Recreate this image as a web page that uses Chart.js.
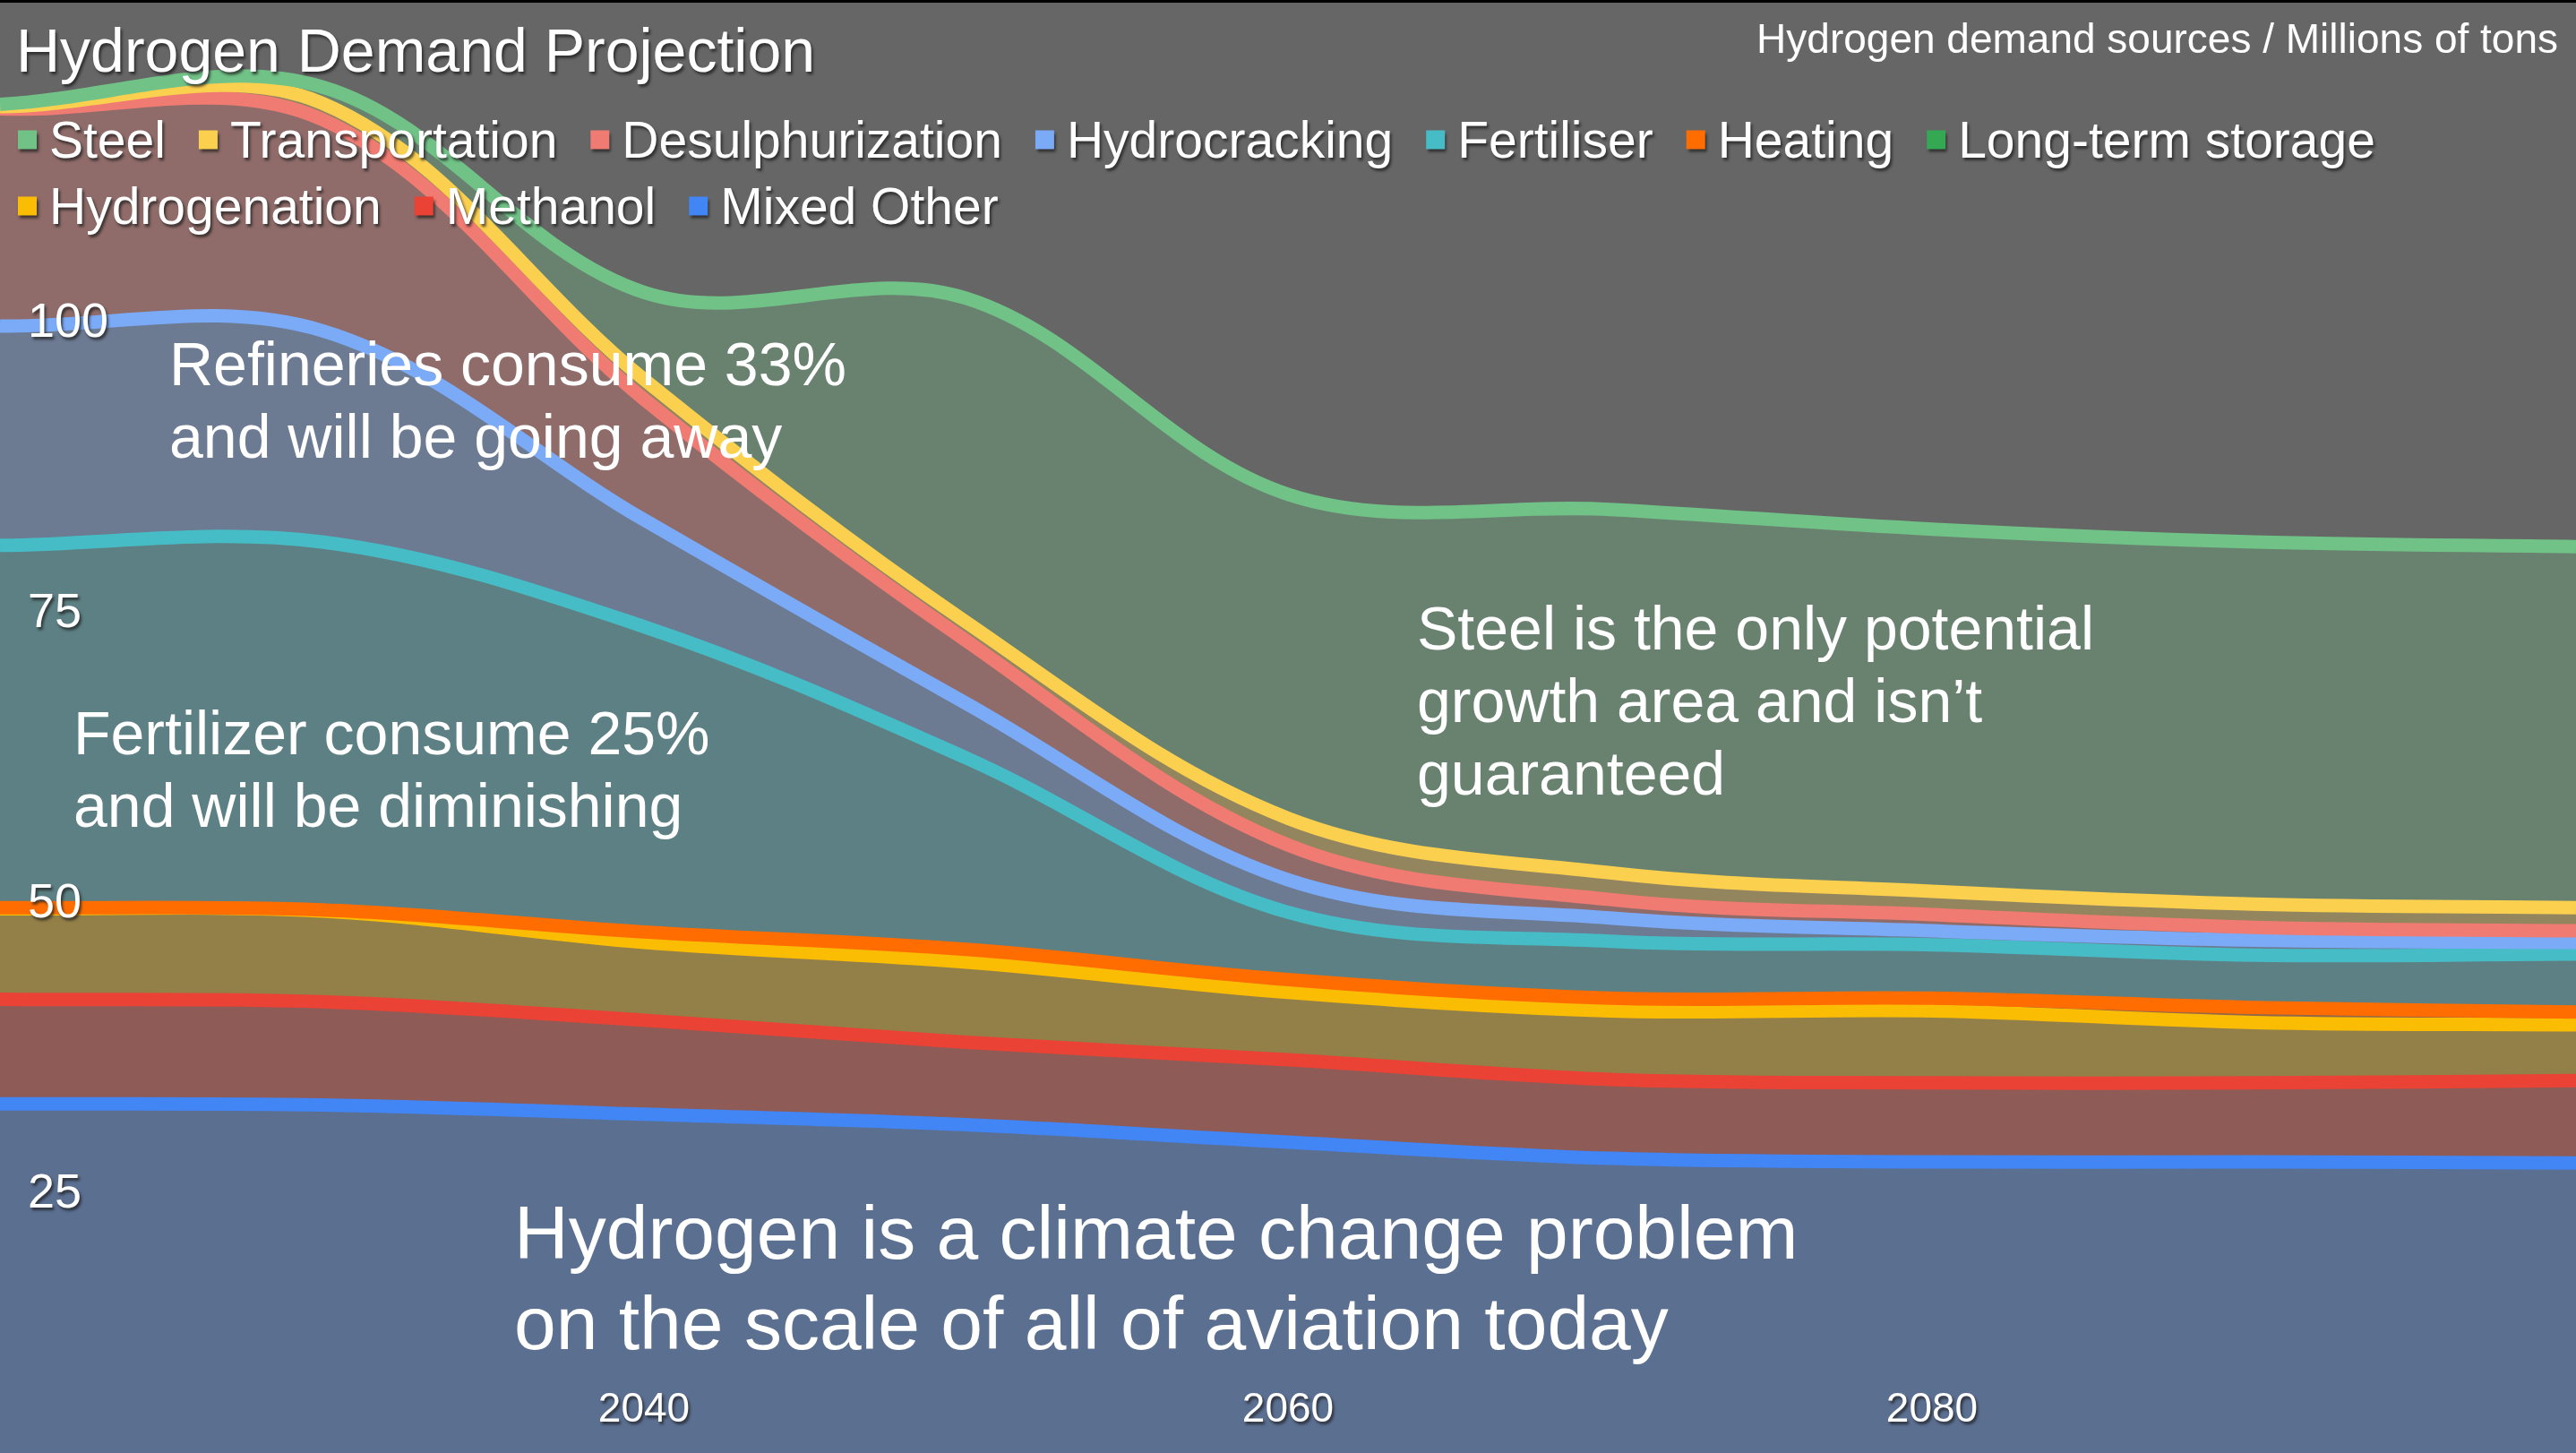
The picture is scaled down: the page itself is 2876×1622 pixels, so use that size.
<!DOCTYPE html>
<html>
<head>
<meta charset="utf-8">
<title>Hydrogen Demand Projection</title>
<script src="https://cdn.jsdelivr.net/npm/chart.js@4.4.1/dist/chart.umd.min.js"></script>
<style>
  html, body { margin: 0; padding: 0; background: #000; overflow: hidden; }
  #wrap { position: absolute; left: 0; top: 3px; width: 2876px; height: 1619px; background: #666666; }
</style>
</head>
<body>
<div id="wrap"><canvas id="chart"></canvas></div>
<script>
// years on the x axis
var years = [2020, 2030, 2040, 2050, 2060, 2070, 2080, 2090, 2100];

// millions of tons per source, bottom of the stack first
var mixedOther       = [32.8, 32.7, 31.9, 31.0, 29.5, 28.1, 27.8, 27.8, 27.7];
var methanol         = [9.0, 8.9, 8.1, 7.1, 7.1, 6.8, 6.8, 6.8, 7.1];
var hydrogenation    = [7.8, 7.8, 6.7, 6.9, 5.8, 5.9, 6.2, 5.2, 4.8];
var longTermStorage  = [0, 0, 0, 0, 0, 0, 0, 0, 0];
var heating          = [0.1, 0.1, 0.9, 1.1, 1.1, 1.1, 1.1, 1.3, 1.1];
var fertiliser       = [31.2, 31.7, 26.3, 16.5, 5.8, 4.9, 4.6, 4.5, 5.0];
var hydrocracking    = [18.9, 18.2, 9.2, 4.7, 2.8, 2.0, 1.2, 1.3, 1.0];
var desulphurization = [18.7, 18.2, 10.4, 5.4, 3.0, 1.6, 1.4, 1.1, 1.0];
var transportation   = [0.2, 1.4, 1.7, 1.6, 2.3, 2.3, 2.0, 2.0, 2.0];
var steel            = [0.2, 1.4, 7.5, 27.9, 27.9, 31.3, 31.2, 31.2, 31.1];

var seriesNames = ["Mixed Other", "Methanol", "Hydrogenation", "Long-term storage", "Heating",
                   "Fertiliser", "Hydrocracking", "Desulphurization", "Transportation", "Steel"];
var seriesValues = [mixedOther, methanol, hydrogenation, longTermStorage, heating,
                    fertiliser, hydrocracking, desulphurization, transportation, steel];
var seriesColors = ["#4285f4", "#ea4335", "#fbbc04", "#34a853", "#ff6d01",
                    "#46bdc6", "#7baaf7", "#f07b72", "#fcd04f", "#71c287"];

var xTicks = [2040, 2060, 2080];
var yTicks = [25, 50, 75, 100];

var FONT = "'Liberation Sans', Arial, sans-serif";

function rgba(hex, a) {
    var n = parseInt(hex.slice(1), 16);
    return "rgba(" + (n >> 16 & 255) + ", " + (n >> 8 & 255) + ", " + (n & 255) + ", " + a + ")";
}

function setShadow(ctx) {
    ctx.shadowColor = "rgba(30, 30, 30, 0.75)";
    ctx.shadowBlur = 3;
    ctx.shadowOffsetX = 2;
    ctx.shadowOffsetY = 3;
}

// running totals so each band sits on the one below it
var running = years.map(function () { return 0; });
var datasets = seriesValues.map(function (vals, i) {
    running = running.map(function (r, j) { return r + vals[j]; });
    return {
        label: seriesNames[i],
        data: years.map(function (yr, j) { return { x: yr, y: +running[j].toFixed(2) }; }),
        borderColor: seriesColors[i],
        backgroundColor: rgba(seriesColors[i], 0.3),
        borderWidth: 15,
        fill: i == 0 ? "start" : "-1",
        showLine: seriesNames[i] != "Long-term storage",
        order: seriesValues.length - 1 - i,
        pointRadius: 0,
        pointHoverRadius: 0,
        tension: 0.35,
        borderJoinStyle: "round"
    };
});

var notes = [
    { lines: ["Refineries consume 33%", "and will be going away"], x: 189, y: 427, size: 68, lead: 81 },
    { lines: ["Fertilizer consume 25%", "and will be diminishing"], x: 82, y: 839, size: 68, lead: 81 },
    { lines: ["Steel is the only potential", "growth area and isn\u2019t", "guaranteed"], x: 1582, y: 722, size: 68, lead: 81 },
    { lines: ["Hydrogen is a climate change problem", "on the scale of all of aviation today"], x: 574, y: 1402, size: 84, lead: 101 }
];

var overlay = {
    id: "overlay",
    afterDraw: function (chart) {
        var ctx = chart.ctx;
        var xs = chart.scales.x, ys = chart.scales.y;

        ctx.save();
        ctx.fillStyle = "#ffffff";
        setShadow(ctx);

        // tick labels sit inside the plot, placed through the chart's own scales
        ctx.textBaseline = "middle";
        ctx.textAlign = "left";
        ctx.font = "54px " + FONT;
        yTicks.forEach(function (v) {
            ctx.fillText(String(v), 31, ys.getPixelForValue(v));
        });
        ctx.textAlign = "center";
        ctx.font = "46px " + FONT;
        xTicks.forEach(function (v) {
            ctx.fillText(String(v), xs.getPixelForValue(v), chart.chartArea.bottom - 48);
        });

        ctx.textBaseline = "alphabetic";
        ctx.textAlign = "left";
        ctx.font = "68px " + FONT;
        ctx.fillText("Hydrogen Demand Projection", 18, 77);

        // legend, top of the stack first
        ctx.font = "57px " + FONT;
        var x = 20, y = 173, box = 21;
        for (var i = seriesNames.length - 1; i >= 0; i--) {
            var w = ctx.measureText(seriesNames[i]).width;
            if (x + 35 + w > chart.width - 10) {
                x = 20;
                y += 74;
            }
            ctx.fillStyle = seriesColors[i];
            ctx.fillRect(x, y - 20 - box / 2, box, box);
            ctx.fillStyle = "#ffffff";
            ctx.fillText(seriesNames[i], x + 35, y);
            x += 35 + w + 37;
        }
        ctx.restore();

        ctx.save();
        ctx.fillStyle = "#ffffff";
        ctx.textBaseline = "alphabetic";
        ctx.font = "46px " + FONT;
        ctx.textAlign = "right";
        ctx.fillText("Hydrogen demand sources / Millions of tons", 2856, 56);

        ctx.textAlign = "left";
        notes.forEach(function (n) {
            ctx.font = n.size + "px " + FONT;
            n.lines.forEach(function (line, k) {
                ctx.fillText(line, n.x, n.y + k * n.lead);
            });
        });
        ctx.restore();
    }
};

Chart.defaults.font.family = FONT;
Chart.defaults.color = "#ffffff";

new Chart(document.getElementById("chart"), {
    type: "line",
    data: { datasets: datasets },
    options: {
        responsive: true,
        maintainAspectRatio: false,
        devicePixelRatio: 1,
        animation: false,
        layout: { padding: 0 },
        scales: {
            x: { type: "linear", min: 2020, max: 2100, display: false },
            y: { min: 2.72, max: 127.65, display: false }
        },
        plugins: {
            legend: { display: false },
            title: { display: false },
            tooltip: { enabled: false },
            filler: { drawTime: "beforeDatasetsDraw" }
        }
    },
    plugins: [overlay]
});
</script>
</body>
</html>
